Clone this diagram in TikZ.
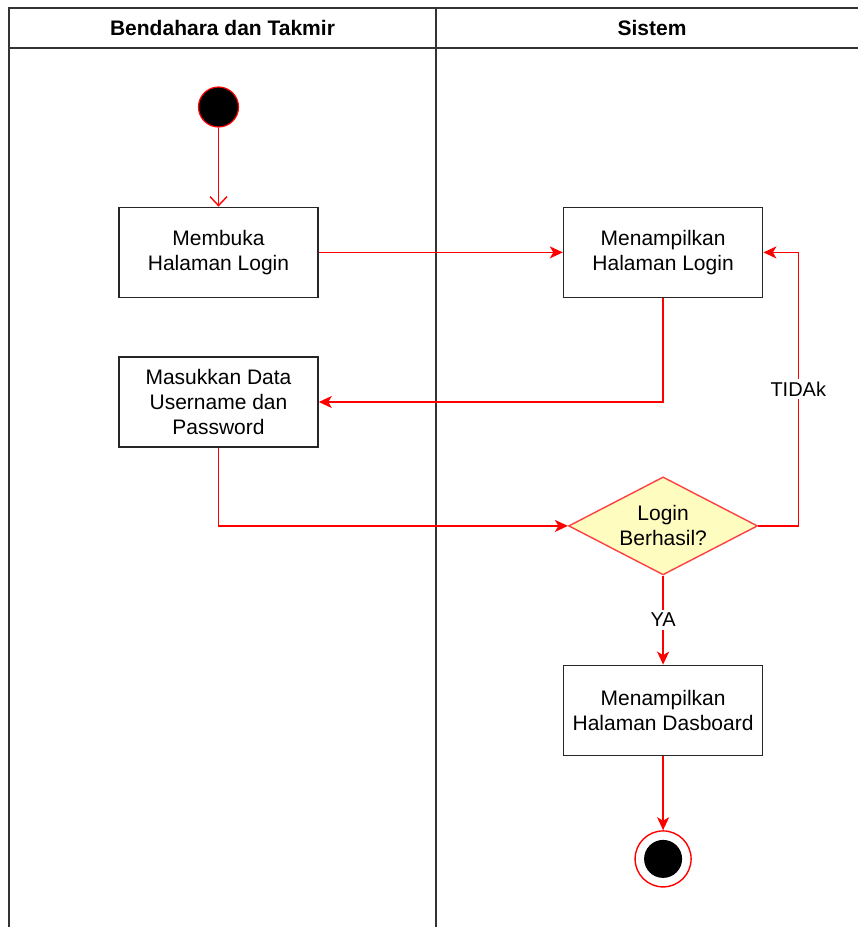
\documentclass[tikz,border=0pt]{standalone}
\usepackage{fontspec}
\setmainfont{Liberation Sans}
\usetikzlibrary{arrows.meta}
\usetikzlibrary{positioning}
\usetikzlibrary{shapes.geometric}

\tikzset{
  lajur/.style={draw=black!80, line width=1.5pt},
  aksi/.style={draw=black!85, line width=1.6pt, minimum width=199pt, minimum height=90pt,
    align=center, inner sep=2pt, font=\fontsize{21}{25}\selectfont},
  pilihan/.style={diamond, draw=red!75, fill=yellow!25, line width=1.4pt, aspect=1.93,
    minimum width=189pt, minimum height=98pt, inner sep=0pt, align=center,
    font=\fontsize{21}{25}\selectfont},
  awal/.style={circle, fill=black, draw=red, line width=1.2pt, minimum size=40pt, inner sep=0pt},
  akhir/.style={circle, draw=red, line width=1.4pt, minimum size=56pt, inner sep=0pt,
    path picture={\fill[black] (path picture bounding box.center) circle (19pt);}},
  alur/.style={draw=red, line width=1.6pt, -{Stealth[length=13pt, width=12pt, inset=3.5pt]}},
  ket/.style={fill=white, font=\fontsize{20}{24}\selectfont, inner sep=3pt}
}

\begin{document}
\begin{tikzpicture}[x=1pt, y=-1pt]
    \useasboundingbox (0,0) rectangle (858,927);

    % swimlanes
    \draw[lajur] (9,927) -- (9,8) -- (858,8);
    \draw[lajur] (9,48) -- (858,48);
    \draw[lajur] (436,8) -- (436,927);
    \node[font=\bfseries\fontsize{21}{25}\selectfont] (lajurA) at (222.5,28) {Bendahara dan Takmir};
    \node[font=\bfseries\fontsize{21}{25}\selectfont] (lajurB) at (652,28) {Sistem};

    \node[awal] (mulai) at (218.5,107) {};
    \node[aksi, below=79pt of mulai] (buka) {Membuka\\Halaman Login};
    \node[aksi, right=244pt of buka] (tampil) {Menampilkan\\Halaman Login};
    \node[aksi, below=58pt of buka] (masuk) {Masukkan Data\\Username dan\\Password};
    \node[pilihan, below=178pt of tampil] (cek) {Login\\Berhasil?};
    \node[aksi, below=89pt of cek] (dasbor) {Menampilkan\\Halaman Dasboard};
    \node[akhir, below=74pt of dasbor] (selesai) {};

    \draw[draw=red, line width=1.4pt, -{Straight Barb[length=9pt, width=17pt]}] (mulai) -- (buka);
    \draw[alur] (buka) -- (tampil);
    \draw[alur] (tampil.south) |- (masuk.east);
    \draw[alur] (masuk.south) |- (cek.west);
    \draw[alur] (cek.east) -- ++(40,0) |- (tampil.east) node[ket, pos=0.25] {TIDAk};
    \draw[alur] (cek.south) -- node[ket] {YA} (dasbor.north);
    \draw[alur] (dasbor) -- (selesai);
\end{tikzpicture}
\end{document}
